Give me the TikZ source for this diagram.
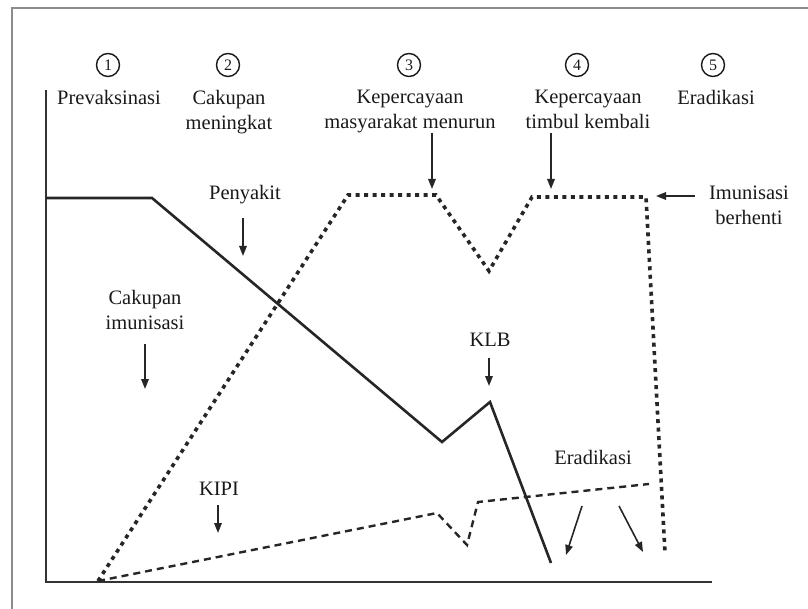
\documentclass[tikz,border=0pt]{standalone}
\usepackage{fontspec}
\setmainfont{Liberation Serif}
\usetikzlibrary{arrows.meta}
\begin{document}
\begin{tikzpicture}[x=1pt,y=-1pt,
  lbl/.style={font=\fontsize{20.5}{25}\selectfont, text=black!90, align=center, inner sep=0pt},
  num/.style={circle, draw=black!90, line width=1.4pt, minimum size=23pt, inner sep=0pt, text=black!90, font=\fontsize{16}{16}\selectfont},
  axis/.style={line width=2.6pt, draw=black!80},
  disease/.style={line width=2.6pt, draw=black!85, line join=miter},
  cover/.style={line width=3.6pt, draw=black!85, dash pattern=on 4pt off 4.5pt},
  aefi/.style={line width=2.4pt, draw=black!85, dash pattern=on 7pt off 5pt},
  pointer/.style={line width=1.6pt, draw=black!85, -{Triangle[length=10pt,width=7.5pt]}},
]
\useasboundingbox (0,0) rectangle (808,609);
% frame
\draw[line width=2.4pt, draw=black!45] (12,609) -- (12,8) -- (808,8);

% header circles and labels
\node[num] (c1) at (108,65) {1};
\node[num] (c2) at (228,65) {2};
\node[num] (c3) at (409,65) {3};
\node[num] (c4) at (577,65) {4};
\node[num] (c5) at (713,65) {5};
\node[lbl, anchor=north] (h1) at (109,90) {Prevaksinasi};
\node[lbl, anchor=north] (h2) at (229,90) {Cakupan\\meningkat};
\node[lbl, anchor=north] (h3) at (410,90) {Kepercayaan\\masyarakat menurun};
\node[lbl, anchor=north] (h4) at (588,90) {Kepercayaan\\timbul kembali};
\node[lbl, anchor=north] (h5) at (716,90) {Eradikasi};

% axes
\coordinate (ytop) at (46,90);
\coordinate (origin) at (46,582);
\coordinate (xend) at (712,582);
\draw[axis] (ytop) -- (origin) -- (xend);

% disease curve
\coordinate (d1) at (46,198);
\coordinate (d2) at (152,198);
\coordinate (d3) at (442,442);
\coordinate (d4) at (490,402);
\coordinate (d5) at (551,563);
\draw[disease] (d1) -- (d2) -- (d3) -- (d4) -- (d5);

% immunisation coverage
\coordinate (v1) at (98,581);
\coordinate (v2) at (348,195);
\coordinate (v3) at (436,195);
\coordinate (v4) at (489,271);
\coordinate (v5) at (532,197);
\coordinate (v6) at (646,197);
\coordinate (v7) at (665,553);
\draw[cover] (v1) -- (v2) -- (v3) -- (v4) -- (v5) -- (v6) -- (v7);

% adverse events
\coordinate (k1) at (98,581);
\coordinate (k2) at (437,513);
\coordinate (k3) at (467,545);
\coordinate (k4) at (478,502);
\coordinate (k5) at (649,484);
\draw[aefi] (k1) -- (k2) -- (k3) -- (k4) -- (k5);

% labels
\node[lbl] (penyakit) at (245,195) {Penyakit};
\node[lbl] (cakupan) at (145,310) {Cakupan\\imunisasi};
\node[lbl] (klb) at (490,340) {KLB};
\node[lbl] (kipi) at (219,489) {KIPI};
\node[lbl] (erad) at (593,457) {Eradikasi};
\node[lbl] (stop) at (749,205) {Imunisasi\\berhenti};

% pointer arrows
\coordinate (pa1) at (243,218); \coordinate (pa2) at (243,256);
\draw[pointer] (pa1) -- (pa2);
\coordinate (ca1) at (145,344); \coordinate (ca2) at (145,389);
\draw[pointer] (ca1) -- (ca2);
\coordinate (kl1) at (489,358); \coordinate (kl2) at (489,386);
\draw[pointer] (kl1) -- (kl2);
\coordinate (ki1) at (218,505); \coordinate (ki2) at (218,533);
\draw[pointer] (ki1) -- (ki2);
\coordinate (e1) at (582,506); \coordinate (e2) at (566,555);
\draw[pointer] (e1) -- (e2);
\coordinate (e3) at (619,506); \coordinate (e4) at (643,552);
\draw[pointer] (e3) -- (e4);
\coordinate (s1) at (695,196); \coordinate (s2) at (656,196);
\draw[pointer] (s1) -- (s2);
\coordinate (m1) at (432,133); \coordinate (m2) at (432,189);
\draw[pointer] (m1) -- (m2);
\coordinate (t1) at (551,133); \coordinate (t2) at (551,189);
\draw[pointer] (t1) -- (t2);
\end{tikzpicture}
\end{document}
